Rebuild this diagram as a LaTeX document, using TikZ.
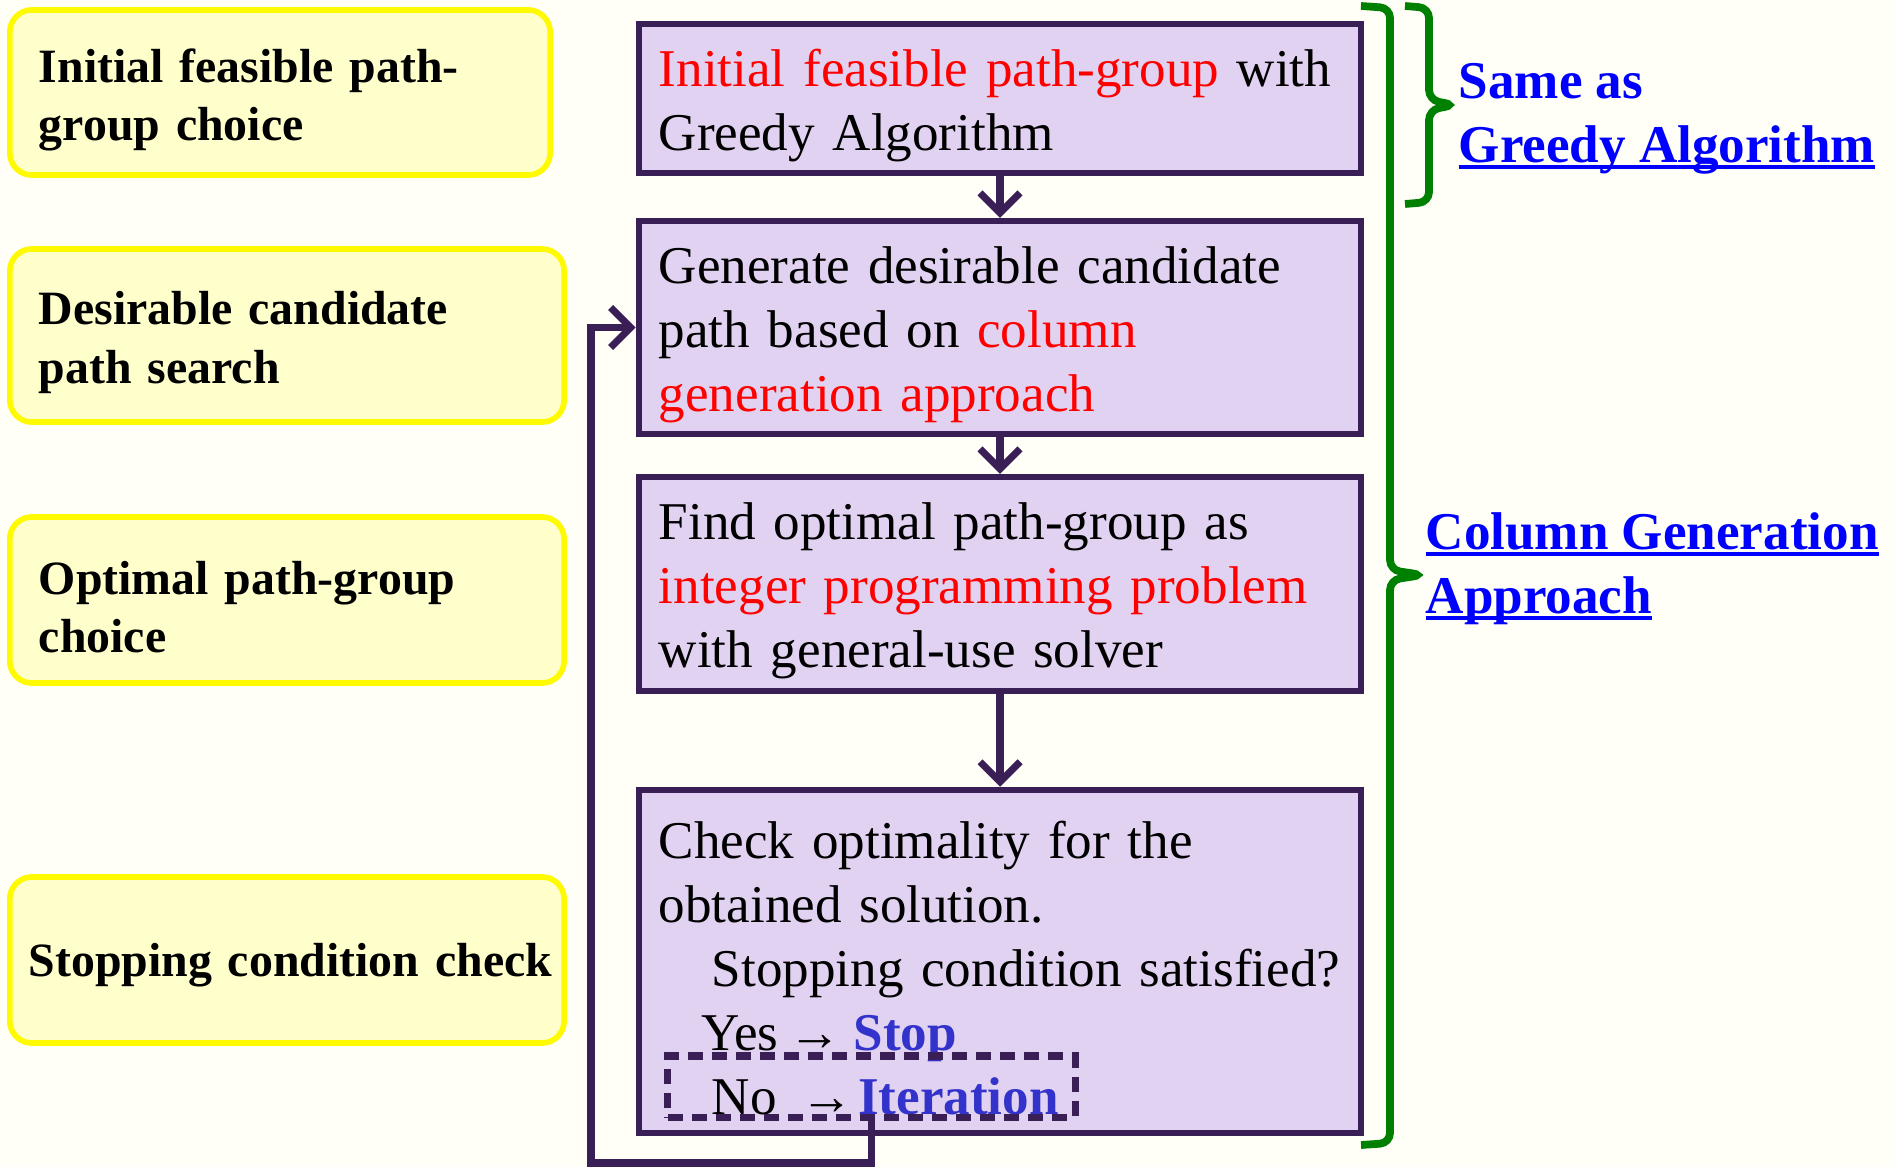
\documentclass[tikz,border=0pt]{standalone}
\usepackage{fontspec}
\setmainfont{Liberation Serif}
\usetikzlibrary{arrows.meta,calc,positioning}

\definecolor{bgcream}{RGB}{255,255,247}
\definecolor{phasefill}{RGB}{255,255,204}
\definecolor{phaseedge}{RGB}{255,250,0}
\definecolor{procfill}{RGB}{225,210,241}
\definecolor{procedge}{RGB}{58,30,86}
\definecolor{bracegreen}{RGB}{0,128,0}
\definecolor{stopblue}{RGB}{51,51,204}
\definecolor{linkblue}{RGB}{0,0,255}

\newcommand{\ulink}[1]{\setbox0=\hbox{#1}\rlap{\rule[-0.12em]{\wd0}{0.075em}}\box0}
\newcommand{\lowertext}{\par\vspace*{-0.14cm}}

\begin{document}
\begin{tikzpicture}[
      x=0.01cm, y=-0.01cm,
      phase/.style={
          rectangle,
          rounded corners=0.22cm,
          draw=phaseedge,
          fill=phasefill,
          line width=1.6pt,
          inner xsep=0.29cm,
          text width=4.96cm,
          align=left,
          font=\fontsize{13.6}{16.5}\selectfont\bfseries,
          execute at end node=\lowertext
        },
      proc/.style={
          rectangle,
          draw=procedge,
          fill=procfill,
          line width=1.8pt,
          inner xsep=0.2cm,
          text width=6.82cm,
          align=left,
          font=\fontsize{15.1}{18.2}\selectfont,
          execute at end node=\lowertext
        },
      note/.style={
          anchor=west,
          inner sep=0pt,
          align=left,
          text=linkblue,
          font=\fontsize{15.1}{18.2}\selectfont\bfseries
        },
      flow/.style={
          draw=procedge,
          line width=2pt,
          -{Straight Barb[length=0.2cm,width=0.4cm]}
        },
      gbrace/.style={
          draw=bracegreen,
          line width=2.2pt,
          rounded corners=0.1cm
        }
    ]
    \useasboundingbox (0,0) rectangle (1894,1167);
    \fill[bgcream] (0,0) rectangle (1894,1167);

    % Phase names on the left
    \node[phase, text width=4.82cm, minimum height=1.65cm] at (280,92.5) (p1) {Initial feasible path-\\group choice};
    \node[phase, minimum height=1.73cm] at (287,335.5) (p2) {Desirable candidate\\path search};
    \node[phase, minimum height=1.66cm] at (287,600) (p3) {Optimal path-group\\choice};
    \node[phase, inner xsep=0.12cm, text width=5.3cm, align=right, minimum height=1.66cm] at (287,960) (p4) {Stopping condition check};

    % Procedure boxes
    \node[proc, minimum height=1.49cm] at (1000,98.5) (init) {{\color{red}Initial feasible path-group} with\\Greedy Algorithm};
    \node[proc, minimum height=2.13cm] at (1000,327.5) (gen) {Generate desirable candidate\\path based on {\color{red}column}\\{\color{red}generation approach}};
    \node[proc, minimum height=2.14cm] at (1000,584) (find) {Find optimal path-group as\\{\color{red}integer programming problem}\\with general-use solver};
    \node[proc, minimum height=3.43cm] at (1000,961.5) (check) {Check optimality for the\\obtained solution.\\\hspace*{1em}Stopping condition satisfied?\\\hspace*{0.8em}Yes~\kern-0.15em→\kern-0.1em~{\bfseries\color{stopblue}Stop}\\\hspace*{1em}No\enspace\kern-0.05em→\kern-0.25em~{\bfseries\color{stopblue}Iteration}};
    \node[draw=procedge, line width=2pt, dash pattern=on 0.15cm off 0.09cm,
      minimum width=4.07cm, minimum height=0.61cm, inner sep=0pt] at (871.5,1086.5) (iter) {};

    % Arrows
    \draw[flow] (init.south) -- (gen.north);
    \draw[flow] (gen.south) -- (find.north);
    \draw[flow] (find.south) -- (check.north);
    \coordinate (loopturn) at (591,1163);
    \draw[flow] (iter.south) |- (loopturn) |- (gen.west);

    % Braces and their labels
    \draw[gbrace] (1361,6) -- (1390,8) -- (1390,570) -- (1423,575) -- (1390,580) -- (1390,1143) -- (1361,1145);
    \draw[gbrace] (1405,6) -- (1429,8) -- (1429,100) -- (1455,105) -- (1429,110) -- (1429,202) -- (1405,204);
    \node[note] at (1458,119) (same) {Same as\\\ulink{Greedy Algorithm}};
    \node[note] at (1425,569) (cga) {\ulink{Column Generation}\\\ulink{Approach}};
  \end{tikzpicture}
\end{document}
